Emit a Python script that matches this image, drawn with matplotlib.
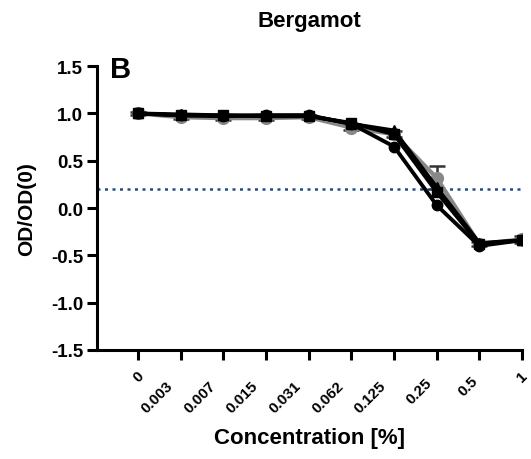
import matplotlib
matplotlib.use("Agg")
import matplotlib.pyplot as plt
import matplotlib.transforms as mtransforms

plt.rcParams["font.family"] = ["Liberation Sans", "DejaVu Sans"]
plt.rcParams["font.weight"] = "bold"

conc_labels = ["0", "0.003", "0.007", "0.015", "0.031", "0.062", "0.125", "0.25", "0.5", "1"]
grey_circ = [1.00, 0.96, 0.95, 0.95, 0.96, 0.85, 0.78, 0.32, -0.38, -0.33]
grey_err = [0.02, 0.02, 0.02, 0.02, 0.02, 0.03, 0.03, 0.12, 0.02, 0.04]
black_circ = [1.00, 0.98, 0.97, 0.98, 0.98, 0.89, 0.65, 0.03, -0.40, -0.34]
black_sq = [1.00, 0.98, 0.98, 0.97, 0.97, 0.90, 0.78, 0.17, -0.38, -0.34]
black_tri = [1.00, 0.99, 0.98, 0.98, 0.98, 0.89, 0.82, 0.22, -0.37, -0.34]
cutoff = 0.2

x = list(range(len(conc_labels)))

fig = plt.figure(figsize=(5.31, 4.60), dpi=100)
ax = fig.add_axes([0.183, 0.237, 0.800, 0.617])

ax.errorbar(x, grey_circ, yerr=grey_err, color="#888888", ecolor="#333333", marker="o", ms=8.5,
            lw=3, capsize=6, capthick=1.8, elinewidth=1.8, zorder=2)
ax.plot(x, black_circ, color="black", marker="o", ms=7.5, lw=2.8, zorder=3)
ax.plot(x, black_sq, color="black", marker="s", ms=7.5, lw=2.8, zorder=3)
ax.plot(x, black_tri, color="black", marker="^", ms=7.5, lw=2.8, zorder=3)

ax.axhline(cutoff, color="#1f4e8c", ls=(0, (1.2, 1.8)), lw=1.8, zorder=1)

ax.set_xlim(-0.96, 9)
ax.set_ylim(-1.5, 1.5)
ax.set_yticks([-1.5, -1.0, -0.5, 0.0, 0.5, 1.0, 1.5])
ax.set_yticklabels(["-1.5", "-1.0", "-0.5", "0.0", "0.5", "1.0", "1.5"], fontsize=13.5, fontweight="bold")
ax.set_xticks(x)
ax.tick_params(axis="x", labelbottom=False)

# rotated concentration labels, staggered like the original software does
base = mtransforms.blended_transform_factory(ax.transData, ax.transAxes)
for xi, lab in zip(x, conc_labels):
    n = len(lab)
    dx = -2 - 3.25 * (n - 1)
    dy = 18 + 2.5 * (n - 1)
    off = mtransforms.ScaledTranslation(dx / 100, -dy / 100, fig.dpi_scale_trans)
    ax.text(xi, 0, lab, transform=base + off, rotation=45, ha="right", va="top",
            rotation_mode="anchor", fontsize=11, fontweight="bold")

for s in ["top", "right"]:
    ax.spines[s].set_visible(False)
for s in ["left", "bottom"]:
    ax.spines[s].set_linewidth(2.2)
ax.tick_params(width=2.2, length=7, pad=3)

ax.set_ylabel("OD/OD(0)", fontsize=15, fontweight="bold", labelpad=11)
ax.set_xlabel("Concentration [%]", fontsize=16, fontweight="bold")
ax.xaxis.label.set_va("center")
ax.xaxis.set_label_coords(0.5, -0.31)
ax.set_title("Bergamot", fontsize=16, fontweight="bold", pad=29)
ax.text(0.03, 0.989, "B", transform=ax.transAxes, fontsize=21, fontweight="bold", va="center")

fig.savefig("out.png", dpi=100)
